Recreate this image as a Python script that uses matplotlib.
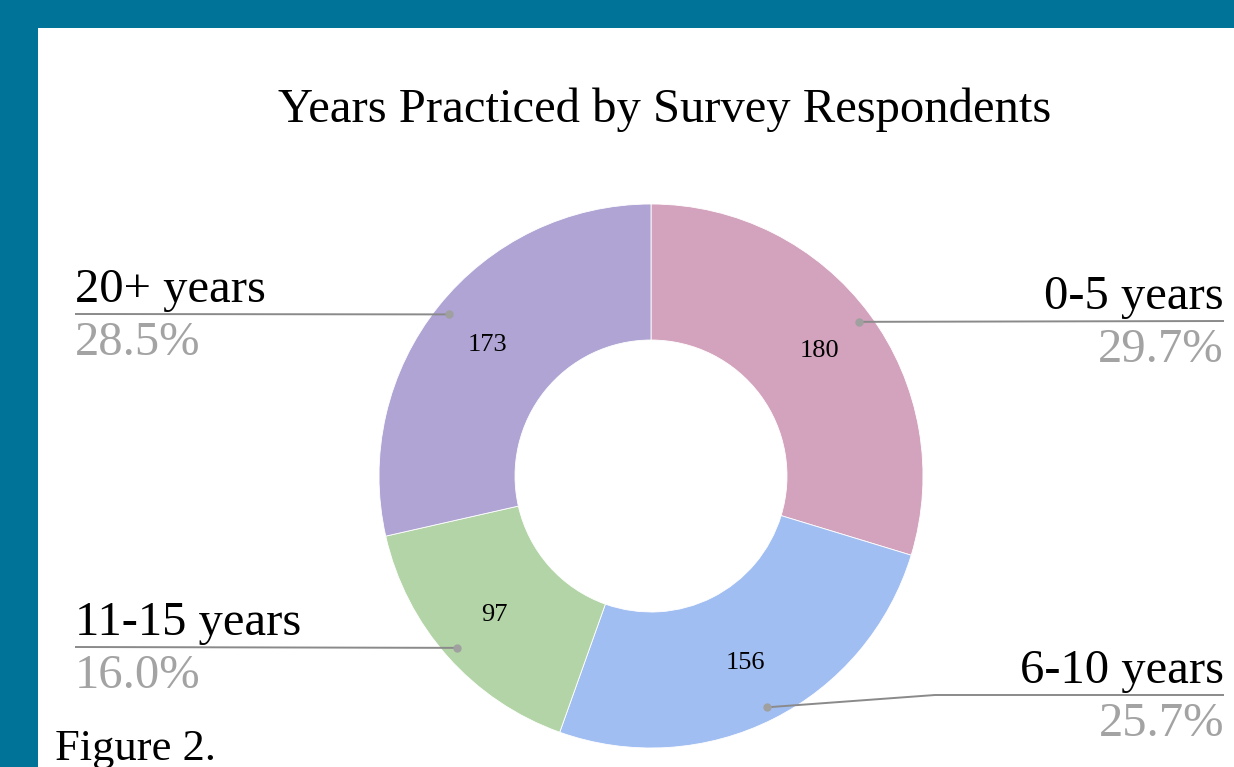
import numpy as np
import matplotlib
matplotlib.use("Agg")
import matplotlib.pyplot as plt
from matplotlib.patches import Rectangle

# Survey data
categories = ["0-5 years", "6-10 years", "11-15 years", "20+ years"]
counts = [180, 156, 97, 173]
colors = ["#d3a2bd", "#a1bef2", "#b3d4a7", "#afa4d3"]
title = "Years Practiced by Survey Respondents"
caption = "Figure 2."

W, H = 1234, 767
SERIF = ["Liberation Serif", "DejaVu Serif"]

fig = plt.figure(figsize=(W / 100, H / 100), dpi=100, facecolor="#007398")
ax = fig.add_axes([0, 0, 1, 1])
ax.set_xlim(0, W)
ax.set_ylim(0, H)
ax.set_aspect("equal")
ax.axis("off")


def Y(y):
    """Convert a top-down pixel row into the axes' bottom-up coordinate."""
    return H - y


# white panel inside the coloured frame
ax.add_patch(Rectangle((38, 0), W - 38, Y(28), facecolor="white",
                       edgecolor="none", zorder=0))

cx, cy, R = 651, Y(476), 272
total = sum(counts)

wedges, _, value_texts = ax.pie(
    counts, colors=colors, startangle=90, counterclock=False,
    radius=R, center=(cx, cy), frame=True,
    wedgeprops=dict(width=R * 0.5, edgecolor="white", linewidth=0.6),
    autopct=lambda p: f"{round(p * total / 100):d}", pctdistance=0.77,
    textprops=dict(family=SERIF, fontsize=19, color="black"),
)
ax.set_xlim(0, W)
ax.set_ylim(0, H)
ax.axis("off")

# leader-line routing: (side, y of the horizontal run, optional elbow x)
layout = {
    "0-5 years": ("right", 321, None),
    "6-10 years": ("right", 695, 935),
    "11-15 years": ("left", 647, None),
    "20+ years": ("left", 314, None),
}
x_left, x_right = 75, 1224
line_c, dot_c, pct_c = "#8a8a8a", "#a0a0a0", "#a3a3a3"

for w, name, n in zip(wedges, categories, counts):
    mid = np.deg2rad((w.theta1 + w.theta2) / 2)
    dx = cx + 0.952 * R * np.cos(mid)
    dy = cy + 0.952 * R * np.sin(mid)
    side, ly, elbow = layout[name]
    ly = Y(ly)
    if side == "right":
        xs = [dx, elbow, x_right] if elbow else [dx, x_right]
        ys = [dy, ly, ly] if elbow else [dy, ly]
        tx, ha = x_right, "right"
    else:
        xs, ys = [x_left, dx], [ly, dy]
        tx, ha = x_left, "left"
    ax.plot(xs, ys, color=line_c, lw=1.4, solid_capstyle="butt", zorder=3)
    ax.plot(dx, dy, "o", color=dot_c, ms=5, zorder=4)
    ax.text(tx, ly + 12, name, ha=ha, va="baseline", family=SERIF,
            fontsize=35, color="black")
    ax.text(tx, ly - 41, f"{100 * n / total:.1f}%", ha=ha, va="baseline",
            family=SERIF, fontsize=35, color=pct_c)

ax.text(665, Y(122), title, ha="center", va="baseline", family=SERIF,
        fontsize=35, color="black")
ax.text(55, Y(760), caption, ha="left", va="baseline", family=SERIF,
        fontsize=32, color="black")

fig.savefig("out.png", dpi=100, facecolor=fig.get_facecolor())
